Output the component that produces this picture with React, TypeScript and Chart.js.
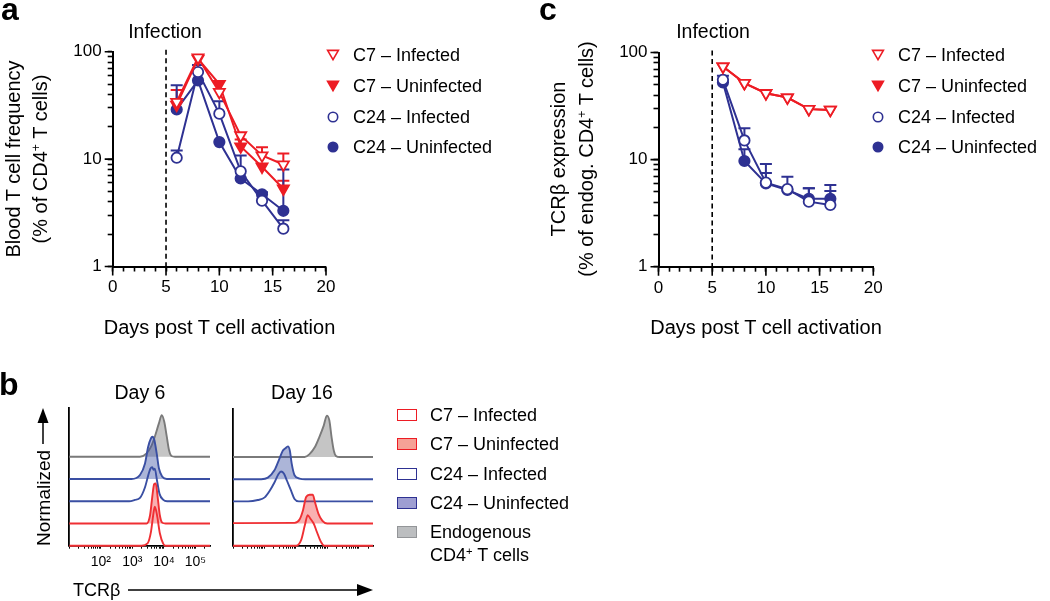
import React, { useEffect, useRef } from 'react';
import { Chart, registerables } from 'chart.js';

Chart.register(...registerables);

const W = 1050;
const H = 601;
const FONT = '"Liberation Sans", Arial, Helvetica, sans-serif';
const RED = '#ED1C24';
const BLUE = '#2E3192';
const H_RED = '#EF2F33';
const H_BLUE = '#3A4FA3';
const H_GRAY = '#7A7A7A';

// ---------------- data: time courses ----------------
const DAYS = [6, 8, 10, 12, 14, 16];
const INFECTION_DAY = 5;
const X_TICK_LABELS = [0, 5, 10, 15, 20];
const Y_TICK_LABELS = [1, 10, 100];
const SERIES = ['C7 – Infected', 'C7 – Uninfected', 'C24 – Infected', 'C24 – Uninfected'];

// panel a: blood T cell frequency (% of CD4+ T cells)
const A_C7_INF = [34, 88, 42, 16.6, 10.8, 8.9];
const A_C7_UNINF = [32, 86, 50, 13.1, 8.5, 5.3];
const A_C24_INF = [10.3, 64.7, 26.5, 7.7, 4.1, 2.25];
const A_C24_UNINF = [29, 54, 14.4, 6.6, 4.7, 3.3];
const A_C7_INF_ERR = [44, null, null, null, 12.9, 11.3];
const A_C7_UNINF_ERR = [null, null, null, 15.2, null, 6.3];
const A_C24_INF_ERR = [12, 75, 34.5, 10.8, null, 2.7];
const A_C24_UNINF_ERR = [48.6, null, null, null, 4.9, 8.0];

// panel c: TCRb expression (% of endog. CD4+ T cells)
const C_C7_INF = [74, 51.8, 41.7, 38, 29.6, 29.1];
const C_C7_UNINF = [74, 51.8, 41.7, 38, 29.6, 29.1];
const C_C24_INF = [55.6, 15.1, 6.1, 5.3, 4.05, 3.77];
const C_C24_UNINF = [52.5, 9.7, 6.0, 5.2, 4.3, 4.3];
const C_C7_INF_ERR = [null, null, null, null, null, null];
const C_C7_UNINF_ERR = [null, null, null, null, null, null];
const C_C24_INF_ERR = [60.6, 19.6, 9.1, 6.9, 5.4, 5.8];
const C_C24_UNINF_ERR = [null, 12.5, 7.5, null, 5.4, 5.1];

// ---------------- data: histograms (x = log10 TCRb, h = normalized height) ----------------
const HIST_TICK_EXP = [2, 3, 4, 5];
const HIST_TICK_LABELS = ['10²', '10³', '10⁴', '10⁵'];
const HIST_DAYS = ['Day 6', 'Day 16'];
const HIST_SERIES = ['C7 – Infected', 'C7 – Uninfected', 'C24 – Infected', 'C24 – Uninfected', 'Endogenous'];

const D6_C7_INF_X = [1.0, 3.29, 3.48, 3.59, 3.66, 3.71, 3.78, 3.87, 3.98, 4.05, 5.46];
const D6_C7_INF_H = [0, 0, 0.1, 0.63, 1.38, 1.75, 1.38, 0.56, 0.08, 0, 0];
const D6_C7_UNINF_X = [1.0, 3.45, 3.56, 3.63, 3.69, 3.74, 3.8, 3.87, 3.95, 4.05, 5.46];
const D6_C7_UNINF_H = [0, 0, 0.37, 1.2, 1.77, 1.8, 1.2, 0.37, 0.03, 0, 0];
const D6_C24_INF_X = [1.0, 2.9, 3.08, 3.24, 3.4, 3.5, 3.57, 3.63, 3.67, 3.71, 3.78, 3.86, 3.98, 4.1, 5.46];
const D6_C24_INF_H = [0, 0, 0.06, 0.15, 0.63, 1.15, 1.46, 1.53, 1.41, 1.46, 0.93, 0.33, 0.06, 0, 0];
const D6_C24_UNINF_X = [1.0, 2.97, 3.24, 3.4, 3.5, 3.59, 3.63, 3.69, 3.77, 3.84, 3.95, 4.09, 5.46];
const D6_C24_UNINF_H = [0, 0, 0.18, 0.7, 1.45, 1.83, 1.9, 1.78, 1.15, 0.48, 0.1, 0, 0];
const D6_ENDO_X = [1.0, 3.24, 3.45, 3.59, 3.71, 3.84, 3.93, 4.01, 4.09, 4.16, 4.24, 4.35, 5.46];
const D6_ENDO_H = [0, 0, 0.15, 0.45, 0.9, 1.5, 1.87, 1.57, 0.9, 0.3, 0.03, 0, 0];

const D16_C7_INF_X = [1.0, 3.01, 3.17, 3.29, 3.38, 3.46, 3.57, 3.67, 3.8, 3.91, 5.46];
const D16_C7_INF_H = [0, 0, 0.25, 0.93, 1.38, 1.23, 1.0, 0.63, 0.18, 0, 0];
const D16_C7_UNINF_X = [1.0, 2.96, 3.12, 3.23, 3.33, 3.44, 3.54, 3.61, 3.72, 3.85, 4.0, 5.46];
const D16_C7_UNINF_H = [0.02, 0.03, 0.18, 0.6, 1.2, 1.3, 1.3, 0.97, 0.45, 0.12, 0, 0];
const D16_C24_INF_X = [1.0, 1.48, 1.79, 2.01, 2.17, 2.32, 2.45, 2.53, 2.62, 2.72, 2.85, 2.96, 3.1, 5.46];
const D16_C24_INF_H = [0, 0, 0.06, 0.18, 0.48, 0.85, 1.23, 1.35, 1.26, 0.93, 0.48, 0.11, 0, 0];
const D16_C24_UNINF_X = [1.0, 1.9, 2.11, 2.32, 2.48, 2.59, 2.66, 2.75, 2.81, 2.87, 2.96, 3.12, 3.3, 5.46];
const D16_C24_UNINF_H = [0, 0, 0.07, 0.4, 0.93, 1.3, 1.38, 1.48, 1.3, 0.7, 0.18, 0.03, 0, 0];
const D16_ENDO_X = [1.0, 3.28, 3.43, 3.61, 3.75, 3.89, 3.99, 4.07, 4.14, 4.21, 4.28, 4.4, 5.46];
const D16_ENDO_H = [0, 0, 0.12, 0.45, 0.9, 1.42, 1.87, 1.65, 0.9, 0.3, 0.05, 0, 0];

// ---------------- plugins ----------------
const errorBarPlugin = {
  id: 'errorBars',
  beforeDatasetsDraw(chart: any) {
    const { ctx } = chart;
    const xs = chart.scales.x;
    const ys = chart.scales.y;
    chart.data.datasets.forEach((ds: any) => {
      if (!ds.errUp) return;
      ctx.save();
      ctx.strokeStyle = ds.borderColor;
      ctx.lineWidth = 2;
      ds.errUp.forEach((e: number | null, j: number) => {
        if (e == null) return;
        const pt = ds.data[j];
        const x = xs.getPixelForValue(pt.x);
        const y0 = ys.getPixelForValue(pt.y);
        const y1 = ys.getPixelForValue(e);
        ctx.beginPath();
        ctx.moveTo(x, y0);
        ctx.lineTo(x, y1);
        ctx.moveTo(x - 6, y1);
        ctx.lineTo(x + 6, y1);
        ctx.stroke();
      });
      ctx.restore();
    });
  },
};

const infectionPlugin = {
  id: 'infectionLine',
  beforeDatasetsDraw(chart: any) {
    const { ctx, chartArea } = chart;
    const x = chart.scales.x.getPixelForValue(INFECTION_DAY);
    ctx.save();
    ctx.strokeStyle = '#000';
    ctx.lineWidth = 1.6;
    ctx.setLineDash([5, 3.5]);
    ctx.beginPath();
    ctx.moveTo(x, chartArea.top - 2);
    ctx.lineTo(x, chartArea.bottom);
    ctx.stroke();
    ctx.restore();
  },
};

// longer tick marks at the labelled (major) ticks
const majorTickPlugin = {
  id: 'majorTicks',
  afterDraw(chart: any) {
    const { ctx, chartArea } = chart;
    const xs = chart.scales.x;
    const ys = chart.scales.y;
    ctx.save();
    ctx.strokeStyle = '#000';
    ctx.lineWidth = 1.6;
    ctx.beginPath();
    X_TICK_LABELS.forEach((v) => {
      const x = xs.getPixelForValue(v);
      ctx.moveTo(x, chartArea.bottom);
      ctx.lineTo(x, chartArea.bottom + 9);
    });
    Y_TICK_LABELS.forEach((v) => {
      const y = ys.getPixelForValue(v);
      ctx.moveTo(chartArea.left, y);
      ctx.lineTo(chartArea.left - 8, y);
    });
    ctx.stroke();
    ctx.restore();
  },
};

// ---------------- chart builders ----------------
type Area = { left: number; top: number; right: number; bottom: number };

function series(label: string, vals: number[], err: (number | null)[], color: string, shape: 'tri' | 'circ', filled: boolean) {
  return {
    label,
    data: DAYS.map((d, i) => ({ x: d, y: vals[i] })),
    errUp: err,
    borderColor: color,
    backgroundColor: color,
    borderWidth: 2,
    pointStyle: shape === 'tri' ? 'triangle' : 'circle',
    pointRotation: shape === 'tri' ? 180 : 0,
    pointRadius: shape === 'tri' ? 6.4 : 5.2,
    pointBorderWidth: 1.8,
    pointBorderColor: color,
    pointBackgroundColor: filled ? color : '#ffffff',
    fill: false,
    tension: 0,
    clip: false,
  };
}

const Y_W = 45;
const X_H = 32;

function timeChart(canvas: HTMLCanvasElement, datasets: any[], area: Area) {
  const xTicks: number[] = [];
  for (let v = 0; v <= 20; v++) xTicks.push(v);
  const yTicks: number[] = [];
  for (let e = 1; e <= 10; e *= 10) for (let k = 1; k <= 9; k++) yTicks.push(k * e);
  yTicks.push(100);
  const tickFont = { family: FONT, size: 17 };
  return new Chart(canvas, {
    type: 'line',
    data: { datasets },
    options: {
      animation: false,
      responsive: false,
      maintainAspectRatio: false,
      layout: {
        padding: { left: area.left - Y_W, top: area.top, right: W - area.right, bottom: H - area.bottom - X_H },
      },
      plugins: { legend: { display: false }, tooltip: { enabled: false } },
      scales: {
        x: {
          type: 'linear',
          min: 0,
          max: 20,
          afterBuildTicks: (s: any) => { s.ticks = xTicks.map((v) => ({ value: v })); },
          afterFit: (s: any) => { s.height = X_H; },
          ticks: {
            autoSkip: false,
            maxRotation: 0,
            padding: 6,
            color: '#000',
            font: tickFont,
            callback: (v: any) => (X_TICK_LABELS.includes(Number(v)) ? String(v) : ''),
          },
          grid: { drawOnChartArea: false, drawTicks: true, tickLength: 5, tickColor: '#000', tickWidth: 1.6 },
          border: { display: true, color: '#000', width: 2 },
        },
        y: {
          type: 'logarithmic',
          min: 1,
          max: 100,
          afterBuildTicks: (s: any) => { s.ticks = yTicks.map((v) => ({ value: v })); },
          afterFit: (s: any) => { s.width = Y_W; },
          ticks: {
            autoSkip: false,
            padding: 6,
            color: '#000',
            font: tickFont,
            callback: (v: any) => (Y_TICK_LABELS.includes(Number(v)) ? String(v) : ''),
          },
          grid: { drawOnChartArea: false, drawTicks: true, tickLength: 5, tickColor: '#000', tickWidth: 1.6 },
          border: { display: true, color: '#000', width: 2 },
        },
      },
    } as any,
    plugins: [errorBarPlugin, infectionPlugin, majorTickPlugin],
  });
}

type Curve = { label: string; x: number[]; h: number[]; row: number; color: string; fill: string | null };

const HX_H = 28;
function histChart(canvas: HTMLCanvasElement, curves: Curve[], area: Area, showLabels: boolean) {
  const ticks: number[] = [];
  for (let n = 1; n <= 5; n++) for (let k = 1; k <= 9; k++) {
    const v = n + Math.log10(k);
    if (v <= 5.46) ticks.push(v);
  }
  const datasets = curves.map((c) => ({
    label: c.label,
    data: c.x.map((x, i) => ({ x, y: c.h[i] + c.row })),
    borderColor: c.color,
    backgroundColor: c.fill || 'rgba(0,0,0,0)',
    borderWidth: 1.9,
    pointRadius: 0,
    cubicInterpolationMode: 'monotone',
    fill: c.fill ? { value: c.row } : false,
    clip: false,
  }));
  return new Chart(canvas, {
    type: 'line',
    data: { datasets },
    options: {
      animation: false,
      responsive: false,
      maintainAspectRatio: false,
      layout: { padding: { left: area.left, top: area.top, right: W - area.right, bottom: H - area.bottom - HX_H } },
      plugins: { legend: { display: false }, tooltip: { enabled: false } },
      scales: {
        x: {
          type: 'linear',
          min: 1,
          max: 5.46,
          afterBuildTicks: (s: any) => { s.ticks = ticks.map((v) => ({ value: v })); },
          afterFit: (s: any) => { s.height = HX_H; },
          ticks: {
            autoSkip: false,
            maxRotation: 0,
            padding: 5,
            color: '#000',
            font: { family: FONT, size: 14 },
            callback: (v: any) => {
              const i = HIST_TICK_EXP.indexOf(Number(v));
              return showLabels && i >= 0 ? HIST_TICK_LABELS[i] : '';
            },
          },
          grid: { drawOnChartArea: false, drawTicks: true, tickLength: 3, tickColor: '#000', tickWidth: 1 },
          border: { display: true, color: '#000', width: 1.8 },
        },
        y: {
          type: 'linear',
          min: 0,
          max: 6.19,
          afterFit: (s: any) => { s.width = 0; },
          ticks: { display: false },
          grid: { drawOnChartArea: false, drawTicks: false },
          border: { display: true, color: '#000', width: 1.8 },
        },
      },
    } as any,
  });
}

// ---------------- html helpers ----------------
const Sup = () => (
  <sup style={{ fontSize: '0.62em', verticalAlign: '0.55em', lineHeight: 0 }}>+</sup>
);

function Txt({ x, y, size = 19.5, rot = false, anchor = 'center', children }: { x: number; y: number; size?: number; rot?: boolean; anchor?: 'center' | 'left'; children: React.ReactNode }) {
  const tr = anchor === 'center' ? `translate(-50%, -50%)${rot ? ' rotate(-90deg)' : ''}` : 'translate(0, -50%)';
  return (
    <div style={{ position: 'absolute', left: x, top: y, transform: tr, whiteSpace: 'nowrap', fontFamily: FONT, fontSize: size, lineHeight: `${size}px`, color: '#000' }}>
      {children}
    </div>
  );
}

function Letter({ x, base, ch }: { x: number; base: number; ch: string }) {
  return (
    <div style={{ position: 'absolute', left: x, top: base - 0.8465 * 32, fontFamily: FONT, fontSize: 32, lineHeight: '32px', fontWeight: 700, color: '#000' }}>{ch}</div>
  );
}

function Marker({ x, y, kind, filled, color }: { x: number; y: number; kind: 'tri' | 'circ'; filled: boolean; color: string }) {
  return (
    <svg width={14} height={14} style={{ position: 'absolute', left: x - 7, top: y - 7 }}>
      {kind === 'tri' ? (
        <polygon points="1.6,2.4 12.4,2.4 7,11.6" fill={filled ? color : '#fff'} stroke={color} strokeWidth={1.6} strokeLinejoin="miter" />
      ) : (
        <circle cx={7} cy={7} r={4.7} fill={filled ? color : '#fff'} stroke={color} strokeWidth={1.6} />
      )}
    </svg>
  );
}

function Square({ x, y, fill, stroke }: { x: number; y: number; fill: string; stroke: string }) {
  return (
    <div style={{ position: 'absolute', left: x, top: y - 6, width: 20, height: 12, boxSizing: 'border-box', background: fill, border: `1.6px solid ${stroke}` }} />
  );
}

const LEG_ROWS = [55, 86, 117, 147];
const LEG_KIND: ('tri' | 'circ')[] = ['tri', 'tri', 'circ', 'circ'];
const LEG_FILLED = [false, true, false, true];
const LEG_COLOR = [RED, RED, BLUE, BLUE];

function TimeLegend({ mx, tx }: { mx: number; tx: number }) {
  return (
    <>
      {SERIES.map((s, i) => (
        <React.Fragment key={s}>
          <Marker x={mx} y={LEG_ROWS[i]} kind={LEG_KIND[i]} filled={LEG_FILLED[i]} color={LEG_COLOR[i]} />
          <Txt x={tx} y={LEG_ROWS[i]} size={18} anchor="left">{s}</Txt>
        </React.Fragment>
      ))}
    </>
  );
}

const HLEG_ROWS = [415, 443.5, 474, 502.5, 531.5];
const HLEG_FILL = ['#ffffff', '#F5A196', '#ffffff', '#9E9ED2', '#BCBEC0'];
const HLEG_STROKE = [RED, RED, BLUE, BLUE, '#939598'];

export default function App() {
  const aRef = useRef<HTMLCanvasElement>(null);
  const cRef = useRef<HTMLCanvasElement>(null);
  const b1Ref = useRef<HTMLCanvasElement>(null);
  const b2Ref = useRef<HTMLCanvasElement>(null);

  useEffect(() => {
    const charts: Chart[] = [];
    charts.push(
      timeChart(aRef.current!, [
        series(SERIES[0], A_C7_INF, A_C7_INF_ERR, RED, 'tri', false),
        series(SERIES[1], A_C7_UNINF, A_C7_UNINF_ERR, RED, 'tri', true),
        series(SERIES[2], A_C24_INF, A_C24_INF_ERR, BLUE, 'circ', false),
        series(SERIES[3], A_C24_UNINF, A_C24_UNINF_ERR, BLUE, 'circ', true),
      ], { left: 112.7, top: 51.7, right: 326, bottom: 266.5 })
    );
    charts.push(
      timeChart(cRef.current!, [
        series(SERIES[0], C_C7_INF, C_C7_INF_ERR, RED, 'tri', false),
        series(SERIES[1], C_C7_UNINF, C_C7_UNINF_ERR, RED, 'tri', true),
        series(SERIES[2], C_C24_INF, C_C24_INF_ERR, BLUE, 'circ', false),
        series(SERIES[3], C_C24_UNINF, C_C24_UNINF_ERR, BLUE, 'circ', true),
      ], { left: 658.5, top: 52.5, right: 873.3, bottom: 266.7 })
    );
    const redFill = 'rgba(239,47,51,0.38)';
    const blueFill = 'rgba(58,79,163,0.42)';
    const grayFill = 'rgba(140,140,140,0.5)';
    charts.push(
      histChart(b1Ref.current!, [
        { label: HIST_SERIES[0], x: D6_C7_INF_X, h: D6_C7_INF_H, row: 0, color: H_RED, fill: null },
        { label: HIST_SERIES[1], x: D6_C7_UNINF_X, h: D6_C7_UNINF_H, row: 1, color: H_RED, fill: redFill },
        { label: HIST_SERIES[2], x: D6_C24_INF_X, h: D6_C24_INF_H, row: 2, color: H_BLUE, fill: null },
        { label: HIST_SERIES[3], x: D6_C24_UNINF_X, h: D6_C24_UNINF_H, row: 3, color: H_BLUE, fill: blueFill },
        { label: HIST_SERIES[4], x: D6_ENDO_X, h: D6_ENDO_H, row: 4, color: H_GRAY, fill: grayFill },
      ], { left: 69.3, top: 408, right: 210, bottom: 545.7 }, true)
    );
    charts.push(
      histChart(b2Ref.current!, [
        { label: HIST_SERIES[0], x: D16_C7_INF_X, h: D16_C7_INF_H, row: 0, color: H_RED, fill: null },
        { label: HIST_SERIES[1], x: D16_C7_UNINF_X, h: D16_C7_UNINF_H, row: 1, color: H_RED, fill: redFill },
        { label: HIST_SERIES[2], x: D16_C24_INF_X, h: D16_C24_INF_H, row: 2, color: H_BLUE, fill: null },
        { label: HIST_SERIES[3], x: D16_C24_UNINF_X, h: D16_C24_UNINF_H, row: 3, color: H_BLUE, fill: blueFill },
        { label: HIST_SERIES[4], x: D16_ENDO_X, h: D16_ENDO_H, row: 4, color: H_GRAY, fill: grayFill },
      ], { left: 233, top: 408.5, right: 373, bottom: 545.7 }, false)
    );
    return () => charts.forEach((c) => c.destroy());
  }, []);

  const canvasStyle: React.CSSProperties = { position: 'absolute', left: 0, top: 0, width: W, height: H };

  return (
    <div style={{ position: 'absolute', left: 0, top: 0, width: W, height: H, background: '#fff', overflow: 'hidden' }}>
      <canvas ref={aRef} width={W} height={H} style={canvasStyle} />
      <canvas ref={cRef} width={W} height={H} style={canvasStyle} />
      <canvas ref={b1Ref} width={W} height={H} style={canvasStyle} />
      <canvas ref={b2Ref} width={W} height={H} style={canvasStyle} />

      {/* panel letters */}
      <Letter x={1} base={20} ch="a" />
      <Letter x={539} base={20} ch="c" />
      <Letter x={-1} base={395} ch="b" />

      {/* panel a text */}
      <Txt x={165} y={32}>Infection</Txt>
      <Txt x={12.5} y={159} size={20} rot>Blood T cell frequency</Txt>
      <Txt x={40} y={159} size={20} rot>(% of CD4<Sup /> T cells)</Txt>
      <Txt x={219.5} y={327} size={20}>Days post T cell activation</Txt>
      <TimeLegend mx={333} tx={353} />

      {/* panel c text */}
      <Txt x={713} y={32}>Infection</Txt>
      <Txt x={558} y={159} size={20} rot>TCRβ expression</Txt>
      <Txt x={586} y={159} size={20} rot>(% of endog. CD4<Sup /> T cells)</Txt>
      <Txt x={766} y={327} size={20}>Days post T cell activation</Txt>
      <TimeLegend mx={878} tx={898} />

      {/* panel b text */}
      <Txt x={140} y={393}>{HIST_DAYS[0]}</Txt>
      <Txt x={302} y={393}>{HIST_DAYS[1]}</Txt>
      <Txt x={42.5} y={498} size={19} rot>Normalized</Txt>
      <svg width={14} height={38} style={{ position: 'absolute', left: 35.5, top: 407 }}>
        <line x1={7} y1={37} x2={7} y2={12} stroke="#000" strokeWidth={1.5} />
        <polygon points="1.5,16 7,1 12.5,16" fill="#000" />
      </svg>
      <Txt x={73} y={590} size={18} anchor="left">TCRβ</Txt>
      <svg width={246} height={14} style={{ position: 'absolute', left: 128, top: 583 }}>
        <line x1={0} y1={7} x2={232} y2={7} stroke="#000" strokeWidth={1.5} />
        <polygon points="229,1 245,7 229,13" fill="#000" />
      </svg>
      {HIST_SERIES.map((s, i) => (
        <React.Fragment key={s}>
          <Square x={397} y={HLEG_ROWS[i]} fill={HLEG_FILL[i]} stroke={HLEG_STROKE[i]} />
          <Txt x={430} y={HLEG_ROWS[i]} size={18} anchor="left">{s}</Txt>
        </React.Fragment>
      ))}
      <Txt x={430} y={555} size={18} anchor="left">CD4<Sup /> T cells</Txt>
    </div>
  );
}
